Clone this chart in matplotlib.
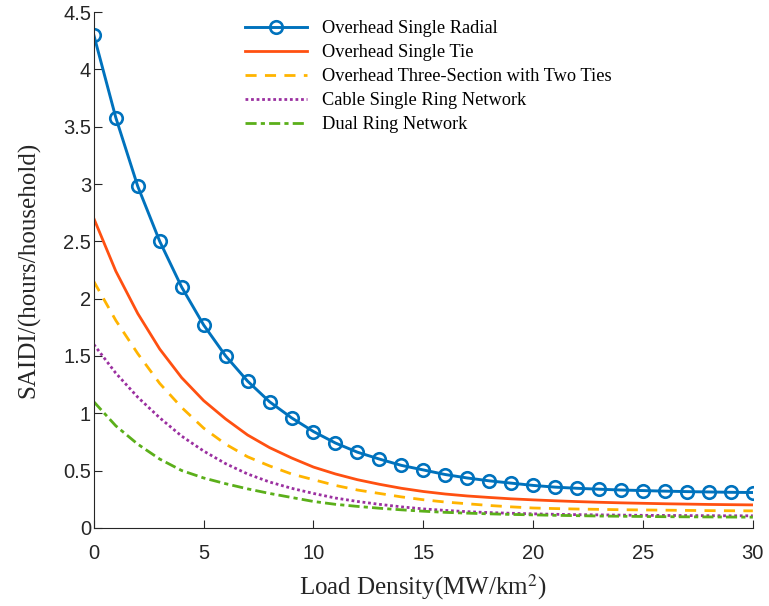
import matplotlib
matplotlib.use("Agg")
import matplotlib.pyplot as plt
import numpy as np

# load density (MW/km^2)
x = list(range(31))

# SAIDI values
overhead_radial = [4.30, 3.58, 2.98, 2.50, 2.10, 1.77, 1.50, 1.28, 1.10, 0.96,
                   0.84, 0.74, 0.66, 0.60, 0.545, 0.505, 0.465, 0.435, 0.41, 0.39,
                   0.37, 0.355, 0.345, 0.337, 0.33, 0.325, 0.32, 0.316, 0.313, 0.31, 0.308]
overhead_tie = [2.70, 2.24, 1.87, 1.56, 1.31, 1.11, 0.95, 0.81, 0.70, 0.61,
                0.53, 0.47, 0.42, 0.38, 0.345, 0.317, 0.295, 0.278, 0.265, 0.253,
                0.244, 0.236, 0.229, 0.223, 0.218, 0.214, 0.210, 0.207, 0.204, 0.202, 0.200]
three_section = [2.15, 1.81, 1.52, 1.26, 1.05, 0.87, 0.73, 0.62, 0.54, 0.47,
                 0.42, 0.37, 0.33, 0.30, 0.27, 0.245, 0.225, 0.21, 0.195, 0.183,
                 0.173, 0.168, 0.164, 0.161, 0.158, 0.156, 0.154, 0.152, 0.150, 0.149, 0.148]
cable_ring = [1.60, 1.35, 1.14, 0.96, 0.80, 0.67, 0.56, 0.47, 0.40, 0.345,
              0.30, 0.26, 0.23, 0.205, 0.183, 0.165, 0.152, 0.141, 0.133, 0.127,
              0.122, 0.118, 0.115, 0.113, 0.111, 0.109, 0.108, 0.107, 0.106, 0.105, 0.105]
dual_ring = [1.10, 0.89, 0.73, 0.60, 0.50, 0.435, 0.385, 0.34, 0.30, 0.265,
             0.23, 0.205, 0.187, 0.171, 0.157, 0.145, 0.135, 0.128, 0.122, 0.117,
             0.113, 0.109, 0.106, 0.103, 0.101, 0.099, 0.097, 0.096, 0.095, 0.094, 0.093]

names = ["Overhead Single Radial", "Overhead Single Tie",
         "Overhead Three-Section with Two Ties", "Cable Single Ring Network",
         "Dual Ring Network"]

plt.rcParams['mathtext.fontset'] = 'stix'

fig = plt.figure(figsize=(7.69, 6.06), dpi=100)
ax = fig.add_axes([0.122, 0.129, 0.857, 0.851])

ax.plot(x, overhead_radial, color="#0072BD", lw=2.1, marker="o", markersize=9,
        markerfacecolor="none", markeredgewidth=1.9, label=names[0])
ax.plot(x, overhead_tie, color="#FF5011", lw=2, label=names[1])
ax.plot(x, three_section, color="#FFB400", lw=2, linestyle=(0, (4, 3)), label=names[2])
ax.plot(x, cable_ring, color="#9B30A0", lw=2, linestyle=(0, (1, 1)), label=names[3])
ax.plot(x, dual_ring, color="#5BAF1A", lw=2, linestyle=(0, (4, 1.5, 1.5, 1.5)), label=names[4])

ax.set_xlim(0, 30)
ax.set_ylim(0, 4.5)
ax.set_xticks(np.arange(0, 31, 5))
ax.set_yticks(np.arange(0, 4.51, 0.5))
ax.set_yticklabels(["0", "0.5", "1", "1.5", "2", "2.5", "3", "3.5", "4", "4.5"])

for s in ["top", "right"]:
    ax.spines[s].set_visible(False)
for s in ["left", "bottom"]:
    ax.spines[s].set_color("#262626")

ax.tick_params(direction="in", length=6, colors="#262626", labelsize=14.5)
ax.tick_params(axis="x", pad=12)
ax.tick_params(axis="y", pad=2)
for lab in ax.get_xticklabels() + ax.get_yticklabels():
    lab.set_fontfamily("Liberation Sans")

ax.set_xlabel("Load Density(MW/km$^2$)", fontfamily="Liberation Serif",
              fontsize=18, color="#262626", labelpad=6)
ax.set_ylabel("SAIDI/(hours/household)", fontfamily="Liberation Serif",
              fontsize=18, color="#262626", labelpad=16)

leg = ax.legend(loc="upper left", bbox_to_anchor=(0.309, 0.979),
                bbox_transform=fig.transFigure, borderaxespad=0, frameon=False,
                prop={"family": "Liberation Serif", "size": 13.2},
                handlelength=3.4, handletextpad=0.8, labelspacing=0.38)

fig.savefig("out.png", dpi=100)
